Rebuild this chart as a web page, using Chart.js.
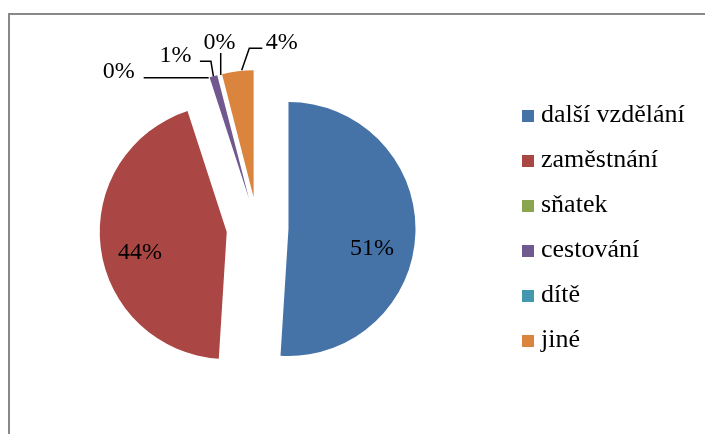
<!DOCTYPE html>
<html>
<head>
<meta charset="utf-8">
<script src="https://cdn.jsdelivr.net/npm/chart.js@4.4.0/dist/chart.umd.min.js"></script>
<style>
  html, body { margin: 0; padding: 0; background: #fff; }
  #wrap { width: 705px; height: 434px; }
</style>
</head>
<body>
<div id="wrap"><canvas id="myChart" width="705" height="434"></canvas></div>
<script>
// data
var kategorie = ['další vzdělání', 'zaměstnání', 'sňatek', 'cestování', 'dítě', 'jiné'];
var procenta = [51, 44, 0, 1, 0, 4];
var barvy = ['#4572A7', '#AA4643', '#89A54E', '#71588F', '#4198AF', '#DB843D'];

// look
var pismo = '"Liberation Serif", "Times New Roman", serif';
var velikost = 24;
var velikostLegendy = 26;
var vysunuti = 31;

// where each value label goes: inside the slice, or next to it with a leader line
// (leader points and text are relative to the outer edge of the exploded slice)
var umisteni = [
    { uvnitr: true, dx: -1.5, dy: 23 },
    { uvnitr: true, dx: -2.3, dy: 16.5 },
    { cara: [[0, 0], [-65, 0]], dx: -90, dy: 0 },
    { cara: [[0, 0], [-2.5, -15], [-13.5, -15]], dx: -38, dy: -14 },
    { cara: [[2.5, 0], [2.5, -22]], dx: 1.3, dy: -26 },
    { cara: [[4, -1], [11.6, -23], [24.6, -23]], dx: 44, dy: -22 }
];

var ramecek = {
    id: 'ramecek',
    beforeDraw: function(chart) {
        var ctx = chart.ctx;
        ctx.save();
        ctx.strokeStyle = '#898989';
        ctx.lineWidth = 2;
        ctx.beginPath();
        ctx.moveTo(9, chart.height);
        ctx.lineTo(9, 14);
        ctx.lineTo(chart.width, 14);
        ctx.stroke();
        ctx.restore();
    }
};

// exploded slices: each arc is moved out along its middle angle
var vysunout = {
    id: 'vysunout',
    beforeDatasetDraw: function(chart, args) {
        var ctx = chart.ctx;
        args.meta.data.forEach(function(arc) {
            var mid = (arc.startAngle + arc.endAngle) / 2;
            ctx.save();
            ctx.translate(Math.cos(mid) * vysunuti, Math.sin(mid) * vysunuti);
            arc.draw(ctx);
            ctx.restore();
        });
        return false;
    },
    afterDatasetsDraw: function(chart) {
        var ctx = chart.ctx;
        var meta = chart.getDatasetMeta(0);
        ctx.save();
        ctx.font = velikost + 'px ' + pismo;
        ctx.fillStyle = '#000';
        ctx.strokeStyle = '#000';
        ctx.lineWidth = 1.5;
        ctx.textAlign = 'center';
        ctx.textBaseline = 'alphabetic';
        meta.data.forEach(function(arc, i) {
            var mid = (arc.startAngle + arc.endAngle) / 2;
            var cx = arc.x + Math.cos(mid) * vysunuti;
            var cy = arc.y + Math.sin(mid) * vysunuti;
            var text = Math.round(procenta[i]) + '%';
            var u = umisteni[i];
            if (u.uvnitr) {
                var r = arc.outerRadius * 0.67;
                ctx.fillText(text, cx + Math.cos(mid) * r + u.dx, cy + Math.sin(mid) * r + u.dy);
                return;
            }
            var ax = cx + Math.cos(mid) * arc.outerRadius;
            var ay = cy + Math.sin(mid) * arc.outerRadius;
            ctx.beginPath();
            u.cara.forEach(function(p, k) {
                if (k === 0) ctx.moveTo(ax + p[0], ay + p[1]);
                else ctx.lineTo(ax + p[0], ay + p[1]);
            });
            ctx.stroke();
            ctx.fillText(text, ax + u.dx, ay + u.dy);
        });
        ctx.restore();
    }
};

var legenda = {
    id: 'legenda',
    afterDraw: function(chart) {
        var ctx = chart.ctx;
        ctx.save();
        ctx.font = velikostLegendy + 'px ' + pismo;
        ctx.textBaseline = 'alphabetic';
        ctx.textAlign = 'left';
        kategorie.forEach(function(k, i) {
            var y = 116 + i * 45;
            ctx.fillStyle = barvy[i];
            ctx.fillRect(522, y - 6, 12, 12);
            ctx.fillStyle = '#000';
            ctx.fillText(k, 541, y + 6);
        });
        ctx.restore();
    }
};

var ctx = document.getElementById('myChart');
var myChart = new Chart(ctx, {
    type: 'pie',
    data: {
        labels: kategorie,
        datasets: [{
            data: procenta,
            backgroundColor: barvy,
            borderWidth: 0,
            radius: 127
        }]
    },
    options: {
        responsive: false,
        animation: false,
        layout: { padding: { left: 0, right: 190, top: 22, bottom: 0 } },
        plugins: {
            legend: { display: false },
            tooltip: { enabled: false }
        }
    },
    plugins: [ramecek, vysunout, legenda]
});
</script>
</body>
</html>
